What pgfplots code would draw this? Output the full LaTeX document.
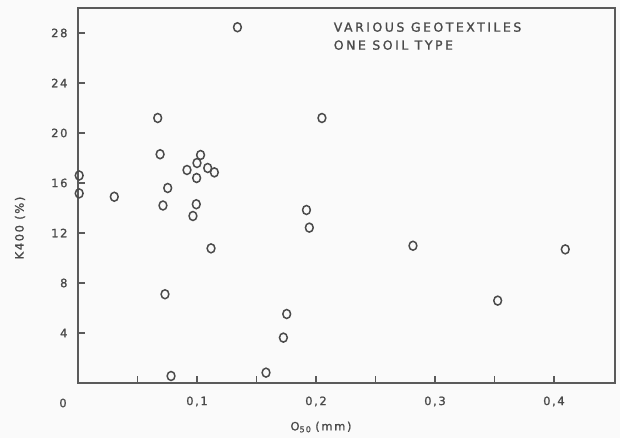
\documentclass[border=0pt]{standalone}
\usepackage{fontspec}
\setmainfont{DejaVu Sans}
\newfontfamily\lettering[LetterSpace=14,FakeBold=1.2]{DejaVu Sans}
\newfontfamily\titlefont[LetterSpace=20,FakeBold=1.2]{DejaVu Sans}
\usepackage{pgfplots}
\pgfplotsset{compat=1.18}
\definecolor{ink}{HTML}{4A4A4A}
\definecolor{axisink}{HTML}{5A5A5A}
\definecolor{paper}{HTML}{FAFAFA}
\pgfplotstableread{
x y
0.134 28.46
0.067 21.2
0.205 21.2
0.069 18.3
0.103 18.24
0.100 17.6
0.0916 17.04
0.109 17.2
0.1146 16.85
0.0997 16.4
0.0754 15.6
0.001 16.6
0.001 15.17
0.0305 14.9
0.0714 14.2
0.0994 14.3
0.192 13.84
0.0966 13.36
0.1944 12.43
0.1118 10.77
0.0731 7.1
0.1754 5.52
0.1726 3.63
0.158 0.83
0.0782 0.56
0.2815 10.98
0.4095 10.69
0.3527 6.59
}\datatable
\begin{document}
\begin{tikzpicture}
\path[use as bounding box, fill=paper] (-78pt,-55pt) rectangle (542pt,383pt);
\begin{axis}[
  scale only axis, width=537pt, height=375pt,
  xmin=0, xmax=0.4513, ymin=0, ymax=30,
  axis line style={axisink, line width=1.8pt},
  xtick={0.05,0.1,0.15,0.2,0.25,0.3,0.35,0.4},
  xticklabels={,{0,1},,{0,2},,{0,3},,{0,4}},
  ytick={4,8,12,16,20,24,28},
  xtick pos=lower, ytick pos=left,
  tick align=inside,
  major tick length=7pt,
  tick style={axisink, line width=1.2pt},
  /pgf/number format/assume math mode=true,
  xticklabel style={font=\lettering\fontsize{11.5}{13}\selectfont, text=ink, yshift=-10pt},
  yticklabel style={font=\lettering\fontsize{11.5}{13}\selectfont, text=ink, xshift=-7pt},
]
\addplot[only marks, mark=o, mark size=3.9pt, ink, mark options={line width=1.5pt, yscale=1.15}] table[x=x,y=y] {\datatable};
\node[anchor=west, align=left, text=ink, font=\titlefont\fontsize{12.5}{18}\selectfont] at (axis cs:0.212,27.75) {VARIOUS GEOTEXTILES\\ONE SOIL TYPE};
\end{axis}
\node[text=ink, font=\lettering\fontsize{11.5}{13}\selectfont] at (-15pt,-20pt) {0};
\node[rotate=90, text=ink, font=\lettering\fontsize{11.5}{13}\selectfont] at (-58pt,155pt) {K400 (\%)};
\node[text=ink, font=\lettering\fontsize{11.5}{13}\selectfont] at (243pt,-44pt) {O\textsubscript{50}\,\,(mm)};
\end{tikzpicture}
\end{document}
